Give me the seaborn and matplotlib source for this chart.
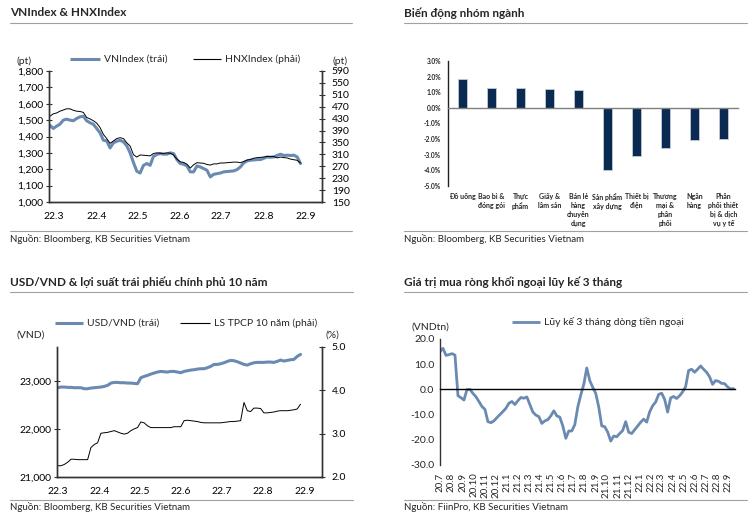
import numpy as np
import pandas as pd
import matplotlib
matplotlib.use("Agg")
import matplotlib.pyplot as plt
from matplotlib.lines import Line2D
from matplotlib.ticker import FuncFormatter
import seaborn as sns

# ---------------- data ----------------
vnindex = [1469, 1449, 1463, 1475, 1500, 1506, 1500, 1496, 1510, 1520,
           1524, 1496, 1484, 1475, 1449, 1422, 1377, 1373, 1330, 1361,
           1371, 1377, 1367, 1343, 1300, 1241, 1188, 1177, 1224, 1235,
           1224, 1279, 1290, 1296, 1292, 1292, 1300, 1296, 1259, 1235,
           1231, 1220, 1184, 1184, 1220, 1214, 1204, 1194, 1153, 1169,
           1173, 1177, 1184, 1186, 1188, 1190, 1198, 1214, 1239, 1251,
           1255, 1257, 1259, 1259, 1267, 1275, 1273, 1275, 1284, 1292,
           1284, 1286, 1284, 1286, 1275, 1235]
hnxindex = [438, 446, 449, 455, 459, 463, 463, 458, 455, 454,
            451, 434, 429, 423, 415, 400, 377, 363, 347, 355,
            363, 366, 363, 349, 338, 309, 301, 308, 307, 306,
            305, 313, 315, 314, 313, 315, 314, 308, 294, 285,
            283, 277, 264, 275, 282, 281, 280, 276, 274, 278,
            278, 281, 281, 282, 283, 284, 284, 282, 286, 291,
            293, 297, 299, 300, 301, 303, 303, 303, 298, 301,
            299, 298, 294, 292, 290, 281]

sectors = ["Đồ uống", "Bao bì &\nđóng gói", "Thực\nphẩm", "Giấy &\nlâm sản",
           "Bán lẻ\nhàng\nchuyên\ndụng", "Sản phẩm\nxây dựng", "Thiết bị\nđiện",
           "Thương\nmại &\nphân\nphối", "Ngân\nhàng", "Phân\nphối thiết\nbị & dịch\nvụ y tế"]
sector_chg = [1.87, 1.30, 1.30, 1.21, 1.13, -4.00, -3.06, -2.55, -2.04, -1.98]

usdvnd = [22861, 22875, 22875, 22868, 22868, 22861, 22861, 22861, 22840, 22840,
          22854, 22861, 22868, 22875, 22889, 22910, 22958, 22972, 22972, 22965,
          22965, 22958, 22958, 22951, 22944, 23069, 23097, 23118, 23146, 23167,
          23188, 23201, 23194, 23188, 23201, 23201, 23188, 23174, 23201, 23215,
          23229, 23236, 23250, 23257, 23257, 23278, 23306, 23347, 23347, 23361,
          23382, 23410, 23431, 23424, 23403, 23375, 23347, 23333, 23361, 23382,
          23389, 23389, 23389, 23396, 23396, 23389, 23410, 23438, 23417, 23431,
          23444, 23451, 23514, 23556]
bond10y = [2.26, 2.26, 2.29, 2.34, 2.41, 2.41, 2.40, 2.40, 2.40, 2.40,
           2.68, 2.75, 2.79, 3.01, 3.02, 3.03, 3.05, 3.07, 3.04, 3.01,
           2.99, 3.01, 3.07, 3.11, 3.14, 3.27, 3.25, 3.18, 3.14, 3.14,
           3.14, 3.14, 3.14, 3.14, 3.14, 3.16, 3.16, 3.16, 3.30, 3.31,
           3.30, 3.29, 3.28, 3.26, 3.25, 3.25, 3.25, 3.25, 3.25, 3.25,
           3.26, 3.27, 3.28, 3.28, 3.29, 3.30, 3.72, 3.53, 3.51, 3.59,
           3.59, 3.58, 3.48, 3.48, 3.49, 3.50, 3.52, 3.53, 3.53, 3.53,
           3.54, 3.55, 3.57, 3.68]

foreign_flow = [15.0, 16.3, 13.5, 13.8, 14.2, 13.6, -2.5, -3.3, -4.2, -0.1,
                0.0, -1.6, -2.9, -4.8, -6.8, -7.9, -12.8, -13.2, -12.5, -11.2,
                -10.0, -8.8, -7.5, -5.5, -4.8, -6.0, -4.5, -3.2, -3.5, -3.0,
                -6.0, -9.0, -10.2, -10.8, -13.5, -12.5, -12.0, -10.5, -8.5, -10.5,
                -11.0, -14.5, -19.4, -16.5, -16.5, -14.0, -7.0, -2.2, 2.0, 8.5,
                3.5, 0.8, -1.6, -7.0, -14.5, -14.8, -17.0, -20.5, -18.5, -18.8,
                -17.5, -16.3, -12.8, -17.0, -17.5, -16.0, -14.5, -13.0, -11.8, -13.0,
                -8.9, -6.5, -5.0, -2.0, -1.5, -4.0, -9.0, -3.4, -2.8, -3.6,
                -2.5, -1.0, 1.1, 7.5, 8.0, 6.8, 8.0, 9.3, 8.0, 6.8,
                5.0, 2.0, 3.5, 3.2, 2.4, 2.3, 1.0, 0.2, 0.3]

month_labels = ["22.3", "22.4", "22.5", "22.6", "22.7", "22.8", "22.9"]
flow_labels = ["20.7", "20.8", "20.9", "20.10", "20.11", "20.12",
               "21.1", "21.2", "21.3", "21.4", "21.5", "21.6", "21.7", "21.8",
               "21.9", "21.10", "21.11", "21.12", "22.1", "22.2", "22.3",
               "22.4", "22.5", "22.6", "22.7", "22.8", "22.9"]

# ---------------- style ----------------
sns.set_theme(style="white")
plt.rcParams["font.family"] = ["Lato", "DejaVu Sans"]
plt.rcParams["axes.linewidth"] = 1.0

BLUE = "#6a8ab2"
NAVY = "#0b2a52"
RULE = "#a0a0a0"
TICK_FS = 7.5

W, H = 753, 516
fig = plt.figure(figsize=(W / 100, H / 100), dpi=100)


def box(l, t, r, b):
    return [l / W, 1 - b / H, (r - l) / W, (b - t) / H]


def fx(x):
    return x / W


def fy(y):
    return 1 - y / H


def frame(x0, x1, y_title, y_rule, y_src_rule, y_src, title, source):
    fig.text(fx(x0), fy(y_title), title, fontsize=8.5, fontweight="bold", va="center")
    fig.add_artist(Line2D([fx(x0), fx(x1)], [fy(y_rule)] * 2, color=RULE, lw=0.8))
    fig.add_artist(Line2D([fx(x0), fx(x1)], [fy(y_src_rule)] * 2, color=RULE, lw=0.8))
    fig.text(fx(x0), fy(y_src), source, fontsize=7, va="center")


def legend_item(x0, x1, y, text, color, lw):
    fig.add_artist(Line2D([fx(x0), fx(x1)], [fy(y)] * 2, color=color, lw=lw,
                          solid_capstyle="butt"))
    fig.text(fx(x1 + 4), fy(y), text, fontsize=7.5, va="center")


def style_axis(ax):
    ax.tick_params(axis="both", direction="inout", length=4, width=0.8,
                   labelsize=TICK_FS, pad=2, colors="#333333", labelcolor="black")
    for s in ax.spines.values():
        s.set_color("#333333")


# ---------------- panel 1: VNIndex & HNXIndex ----------------
frame(10, 352, 13, 23, 231, 239, "VNIndex & HNXIndex",
      "Nguồn: Bloomberg, KB Securities Vietnam")
d1 = pd.date_range("2022-02-26", "2022-08-28", periods=len(vnindex))
ax1 = fig.add_axes(box(49, 71, 322, 202))
ax1b = ax1.twinx()
ax1b.set_position(box(49, 71, 322, 202))
sns.lineplot(x=d1, y=vnindex, ax=ax1, color=BLUE, lw=2.2)
sns.lineplot(x=d1, y=hnxindex, ax=ax1b, color="black", lw=0.7)
ax1.set_ylim(1000, 1800)
ax1.set_yticks(range(1000, 1801, 100))
ax1.yaxis.set_major_formatter(FuncFormatter(lambda v, p: f"{v:,.0f}"))
ax1b.set_ylim(150, 590)
ax1b.set_yticks(range(150, 591, 40))
ticks = pd.date_range("2022-03-01", "2022-09-01", freq="MS")
ax1.set_xticks(ticks)
ax1.set_xticklabels(month_labels)
ax1.set_xlim(pd.Timestamp("2022-02-25 08:00"), pd.Timestamp("2022-09-12 16:00"))
for a in (ax1, ax1b):
    style_axis(a)
    a.spines["top"].set_visible(False)
    a.set_xlabel("")
    a.set_ylabel("")
ax1.tick_params(axis="x", pad=5)
ax1b.tick_params(axis="y", pad=5)
legend_item(70, 100, 59, "VNIndex (trái)", BLUE, 2.2)
legend_item(193, 221, 59, "HNXIndex (phải)", "black", 0.8)
fig.text(fx(24), fy(61), "(pt)", fontsize=7.5, ha="center", va="center")
fig.text(fx(340), fy(61), "(pt)", fontsize=7.5, ha="center", va="center")

# ---------------- panel 2: sector bars ----------------
frame(404, 747, 13, 23, 231, 239, "Biến động nhóm ngành",
      "Nguồn: Bloomberg, KB Securities Vietnam")
ax2 = fig.add_axes(box(448, 61, 738, 186))
sns.barplot(x=list(range(len(sectors))), y=sector_chg, ax=ax2, color=NAVY,
            width=0.33, saturation=1, edgecolor="#c3cbd6", linewidth=0.6)
ax2.set_xlim(-0.5, len(sectors) - 0.5)
ax2.set_ylim(-5, 3)
ax2.set_yticks(range(-5, 4))
ax2.yaxis.set_major_formatter(FuncFormatter(lambda v, p: f"{v:.1f}%"))
ax2.spines["top"].set_visible(False)
ax2.spines["right"].set_visible(False)
ax2.spines["bottom"].set_position(("data", 0))
ax2.spines["bottom"].set_color("#7f7f7f")
ax2.spines["left"].set_color("#222222")
ax2.set_xticks(np.arange(0.5, len(sectors), 1))
ax2.tick_params(axis="x", direction="inout", length=3, width=0.8,
                labelbottom=False, colors="#7f7f7f")
ax2.tick_params(axis="y", direction="inout", length=4, width=0.8, pad=3)
for lab in ax2.get_yticklabels():
    lab.set_fontsize(4.8)
    lab.set_fontweight("bold")
for i, name in enumerate(sectors):
    ax2.text(i, -0.055, name, transform=ax2.get_xaxis_transform(), ha="center",
             va="top", fontsize=5, fontweight="bold", linespacing=1.35)
ax2.set_xlabel("")
ax2.set_ylabel("")

# ---------------- panel 3: USD/VND & 10y bond ----------------
frame(10, 353, 282, 292, 500, 507,
      "USD/VND & lợi suất trái phiếu chính phủ 10 năm",
      "Nguồn: Bloomberg, KB Securities Vietnam")
d3 = pd.date_range("2022-03-01", "2022-08-29", periods=len(usdvnd))
ax3 = fig.add_axes(box(57, 347, 322, 477))
ax3b = ax3.twinx()
ax3b.set_position(box(57, 347, 322, 477))
sns.lineplot(x=d3, y=usdvnd, ax=ax3, color=BLUE, lw=2.2)
sns.lineplot(x=d3, y=bond10y, ax=ax3b, color="black", lw=0.7)
ax3.set_ylim(21000, 23710)
ax3.set_yticks([21000, 22000, 23000])
ax3.yaxis.set_major_formatter(FuncFormatter(lambda v, p: f"{v:,.0f}"))
ax3b.set_ylim(2.0, 5.0)
ax3b.set_yticks([2.0, 3.0, 4.0, 5.0])
ax3b.yaxis.set_major_formatter(FuncFormatter(lambda v, p: f"{v:.1f}"))
ax3.set_xticks(ticks)
ax3.set_xticklabels(month_labels)
ax3.set_xlim(pd.Timestamp("2022-02-28 12:00"), pd.Timestamp("2022-09-14"))
for a in (ax3, ax3b):
    style_axis(a)
    a.spines["top"].set_visible(False)
    a.set_xlabel("")
    a.set_ylabel("")
ax3.tick_params(axis="x", pad=5)
ax3b.tick_params(axis="y", pad=5)
legend_item(55, 83, 323, "USD/VND (trái)", BLUE, 2.2)
legend_item(180, 210, 323, "LS TPCP 10 năm (phải)", "black", 0.8)
fig.text(fx(31), fy(335), "(VND)", fontsize=7.5, ha="center", va="center")
fig.text(fx(332), fy(335), "(%)", fontsize=7.5, ha="center", va="center")

# ---------------- panel 4: foreign net buying ----------------
frame(404, 747, 282, 292, 500, 507,
      "Giá trị mua ròng khối ngoại lũy kế 3 tháng",
      "Nguồn: FiinPro, KB Securities Vietnam")
d4 = pd.date_range("2020-07-01", "2022-09-15", periods=len(foreign_flow))
ax4 = fig.add_axes(box(440, 339, 735, 465))
sns.lineplot(x=d4, y=foreign_flow, ax=ax4, color=BLUE, lw=2.0)
ax4.set_ylim(-30, 20)
ax4.set_yticks(range(-30, 21, 10))
ax4.yaxis.set_major_formatter(FuncFormatter(lambda v, p: f"{v:.1f}"))
ax4.set_xlim(pd.Timestamp("2020-07-01"), pd.Timestamp("2022-09-19"))
ticks4 = pd.date_range("2020-07-01", "2022-09-01", freq="MS")
ax4.set_xticks(ticks4)
ax4.spines["top"].set_visible(False)
ax4.spines["right"].set_visible(False)
ax4.spines["bottom"].set_position(("data", 0))
ax4.spines["bottom"].set_color("black")
ax4.spines["left"].set_color("#333333")
ax4.tick_params(axis="x", direction="in", length=3, width=0.8, labelbottom=False)
ax4.tick_params(axis="y", direction="inout", length=4, width=0.8,
                labelsize=TICK_FS, pad=2)
for t, lab in zip(ticks4, flow_labels):
    ax4.text(t, -0.06, lab, transform=ax4.get_xaxis_transform(), rotation=90,
             ha="center", va="top", fontsize=7)
ax4.set_xlabel("")
ax4.set_ylabel("")
legend_item(512, 540, 322, "Lũy kế 3 tháng dòng tiền ngoại", BLUE, 2.0)
fig.text(fx(430), fy(327), "(VNDtn)", fontsize=7.5, ha="center", va="center")

fig.savefig("out.png", dpi=100, facecolor="white")
